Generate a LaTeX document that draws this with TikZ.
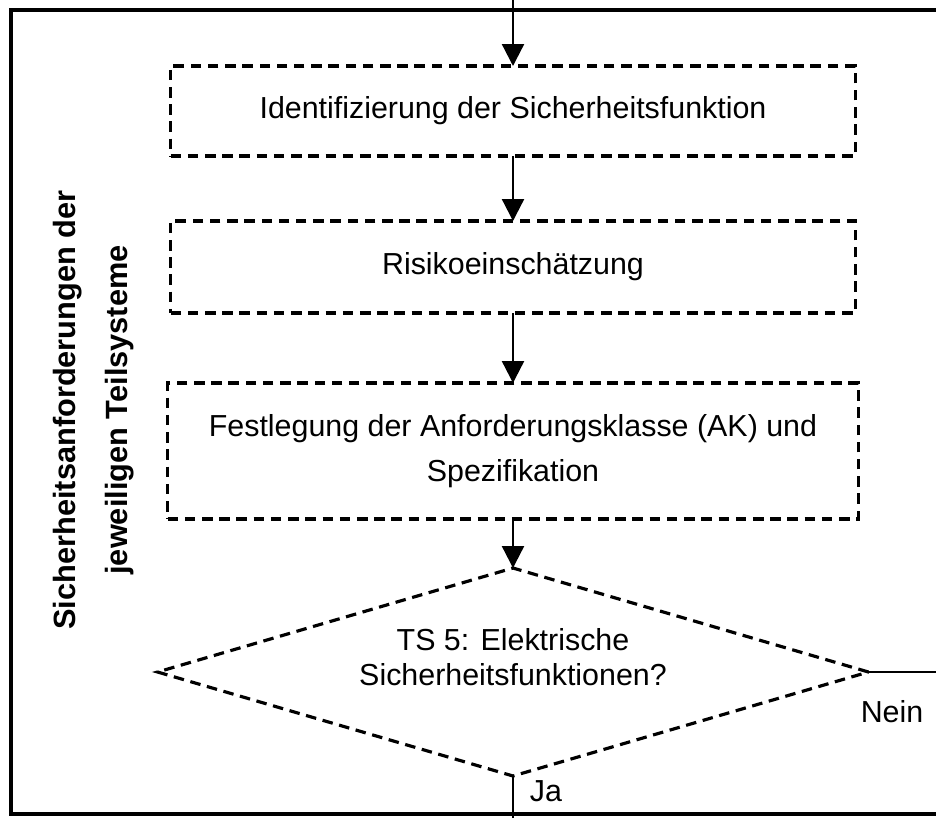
\documentclass[tikz,border=0pt]{standalone}
\usepackage{fontspec}
\setmainfont{Liberation Sans}
\usetikzlibrary{arrows.meta,shapes.geometric}

\begin{document}
\begin{tikzpicture}[x=0.02cm,y=-0.02cm,>={Triangle[length=0.44cm,width=0.44cm]},
  font=\fontsize{17.3}{26}\selectfont,line cap=butt,
  stepbox/.style={draw,line width=1.8pt,dash pattern=on 6pt off 3.8pt,inner sep=0pt,outer sep=0pt,align=center},
  flow/.style={->,line width=1.3pt}]
\useasboundingbox (0,0) rectangle (936,818);
% outer frame
\draw[line width=2pt] (936,10) -- (11,10) -- (11,814) -- (936,814);
\node[rotate=90,align=center,font=\fontsize{17.5}{29.5}\selectfont\bfseries] (title) at (94,410) {Sicherheitsanforderungen der\\jeweiligen Teilsysteme};
% steps
\node[stepbox,minimum width=13.7cm,minimum height=1.8cm] (ident) at (513,111) {Identifizierung der Sicherheitsfunktion};
\node[stepbox,minimum width=13.7cm,minimum height=1.84cm] (risk) at (513,267) {Risikoeinsch\"atzung};
\node[stepbox,minimum width=13.82cm,minimum height=2.72cm] (festl) at (513,451) {Festlegung der Anforderungsklasse (AK) und\\Spezifikation};
\node[stepbox,diamond,minimum width=14.22cm,minimum height=4.16cm] (ts5) at (513,672) {};
\node[align=center,font=\fontsize{17.3}{20}\selectfont] (ts5text) at (513,657) {TS 5: Elektrische\\Sicherheitsfunktionen?};
\coordinate (in) at (513,0);
\coordinate (nein end) at (936,672);
\coordinate (ja end) at (513,818);
% connectors
\draw[flow] (in) -- (ident);
\draw[flow] (ident) -- (risk);
\draw[flow] (risk) -- (festl);
\draw[flow] (festl) -- (ts5);
\draw[line width=1.3pt] (ts5.east) -- (nein end);
\draw[line width=1.3pt] (ts5.south) -- (ja end);
\node (nein) at (892,712) {Nein};
\node (ja) at (546,791) {Ja};
\end{tikzpicture}
\end{document}
